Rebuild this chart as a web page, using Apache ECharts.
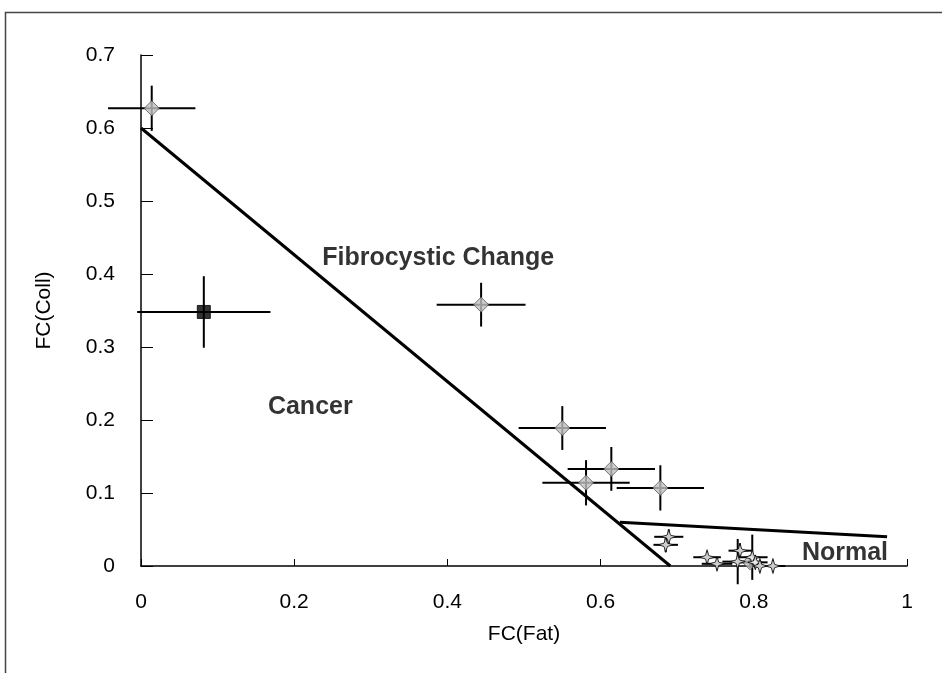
<!DOCTYPE html>
<html>
<head>
<meta charset="utf-8">
<script src="https://cdn.jsdelivr.net/npm/echarts@6/dist/echarts.min.js"></script>
<style>
  html, body { margin: 0; padding: 0; background: #fff; }
  #chart { width: 942px; height: 673px; }
</style>
</head>
<body>
<div id="chart"></div>
<script>
// 数据: [FC(Fat), FC(Coll), x 误差, y 误差]
const cancerPoints = [
    [0.082, 0.348, 0.087, 0.049]
];
const fibroPoints = [
    [0.014, 0.627, 0.057, 0.031],
    [0.444, 0.358, 0.058, 0.030],
    [0.550, 0.189, 0.057, 0.030],
    [0.614, 0.133, 0.057, 0.030],
    [0.581, 0.114, 0.057, 0.031],
    [0.678, 0.107, 0.057, 0.031],
    [0.795, 0.005, 0.015, 0.008]
];
const normalPoints = [
    [0.689, 0.040, 0.019, 0.010],
    [0.685, 0.029, 0.016, 0.010],
    [0.739, 0.012, 0.018, 0.008],
    [0.752, 0.003, 0.020, 0.008],
    [0.782, 0.021, 0.015, 0.010],
    [0.779, 0.006, 0.020, 0.031],
    [0.798, 0.012, 0.020, 0.031],
    [0.802, 0.005, 0.016, 0.008],
    [0.808, 0.000, 0.016, 0.008],
    [0.825, 0.000, 0.016, 0.008]
];
const boundaryCancer = [[0, 0.6], [0.691, 0]];
const boundaryNormal = [[0.625, 0.060], [0.974, 0.040]];
const regionLabels = [
    { name: 'Fibrocystic Change', value: [0.388, 0.422] },
    { name: 'Cancer', value: [0.221, 0.217] },
    { name: 'Normal', value: [0.919, 0.017] }
];
const xTicks = [0, 0.2, 0.4, 0.6, 0.8, 1];
const yTicks = [0, 0.1, 0.2, 0.3, 0.4, 0.5, 0.6, 0.7];

const STAR = 'path://M0,-10 L2.2,-2.2 L10,0 L2.2,2.2 L0,10 L-2.2,2.2 L-10,0 L-2.2,-2.2 Z';
const FONT = 'Liberation Sans';

/**
 * 误差线
 */
function errorBars(pts) {
    return {
        type: 'custom',
        silent: true,
        clip: false,
        z: 3,
        data: pts,
        renderItem(params, api) {
            const x = api.value(0), y = api.value(1);
            const dx = api.value(2), dy = api.value(3);
            const l = api.coord([x - dx, y]);
            const r = api.coord([x + dx, y]);
            const t = api.coord([x, y + dy]);
            const b = api.coord([x, y - dy]);
            const style = { stroke: '#000', lineWidth: 2 };
            return {
                type: 'group',
                children: [
                    { type: 'line', shape: { x1: l[0], y1: l[1], x2: r[0], y2: r[1] }, style },
                    { type: 'line', shape: { x1: t[0], y1: t[1], x2: b[0], y2: b[1] }, style }
                ]
            };
        }
    };
}

function boundary(pts) {
    return {
        type: 'line',
        data: pts,
        symbol: 'none',
        silent: true,
        z: 2,
        lineStyle: { color: '#000', width: 3 }
    };
}

const chart = echarts.init(document.getElementById('chart'));

chart.setOption({
    animation: false,
    backgroundColor: '#fff',
    graphic: [{
        type: 'rect',
        shape: { x: 5.5, y: 12.5, width: 1200, height: 1200 },
        style: { fill: 'none', stroke: '#444', lineWidth: 1.5 },
        silent: true
    }],
    grid: { left: 141, right: 35, top: 55, bottom: 107 },
    xAxis: {
        type: 'value',
        min: xTicks[0],
        max: xTicks[xTicks.length - 1],
        interval: 0.2,
        name: 'FC(Fat)',
        nameLocation: 'middle',
        nameGap: 58,
        nameTextStyle: { fontFamily: FONT, fontSize: 21, color: '#000' },
        axisLine: { lineStyle: { color: '#000', width: 1.5 } },
        axisTick: { inside: true, length: 7, lineStyle: { color: '#000' } },
        axisLabel: { fontFamily: FONT, fontSize: 21, color: '#000', margin: 26 },
        splitLine: { show: false }
    },
    yAxis: {
        type: 'value',
        min: yTicks[0],
        max: yTicks[yTicks.length - 1],
        interval: 0.1,
        name: 'FC(Coll)',
        nameLocation: 'middle',
        nameGap: 86,
        nameTextStyle: { fontFamily: FONT, fontSize: 21, color: '#000' },
        axisLine: { show: true, lineStyle: { color: '#000', width: 1.5 } },
        axisTick: { show: true, inside: true, length: 12, lineStyle: { color: '#000' } },
        axisLabel: { fontFamily: FONT, fontSize: 21, color: '#000', margin: 26 },
        splitLine: { show: false }
    },
    series: [
        boundary(boundaryCancer),
        boundary(boundaryNormal),
        errorBars(cancerPoints),
        errorBars(fibroPoints),
        errorBars(normalPoints),
        {
            type: 'scatter',
            data: cancerPoints.map(p => [p[0], p[1]]),
            symbol: 'rect',
            symbolSize: 13,
            z: 4,
            itemStyle: { color: '#000', borderColor: '#000', borderWidth: 1 }
        },
        {
            type: 'scatter',
            data: fibroPoints.map(p => [p[0], p[1]]),
            symbol: 'diamond',
            symbolSize: 15,
            z: 4,
            itemStyle: { color: '#c0c0c0', borderColor: '#555', borderWidth: 1 }
        },
        {
            type: 'scatter',
            data: normalPoints.map(p => [p[0], p[1]]),
            symbol: STAR,
            symbolSize: 15,
            z: 4,
            itemStyle: { color: '#fff', borderColor: '#000', borderWidth: 1 }
        },
        {
            type: 'scatter',
            data: regionLabels,
            symbol: 'circle',
            symbolSize: 0,
            silent: true,
            z: 5,
            label: {
                show: true,
                position: 'inside',
                formatter: p => p.name,
                fontFamily: FONT,
                fontWeight: 'bold',
                fontSize: 25,
                color: '#000'
            }
        }
    ]
});
</script>
</body>
</html>
